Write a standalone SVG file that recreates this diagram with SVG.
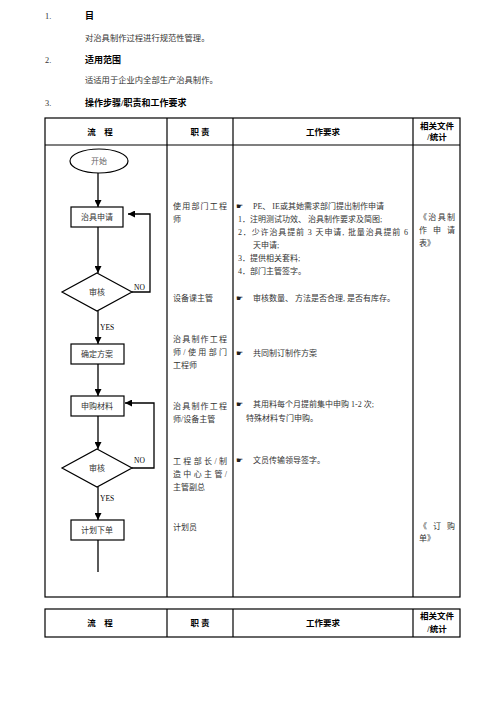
<svg xmlns="http://www.w3.org/2000/svg" width="496" height="702" viewBox="0 0 496 702">
<style>
text{font-family:"Liberation Serif","Noto Sans CJK SC",serif;fill:#333;font-size:8px}
.h{font-weight:bold;fill:#000;font-size:8.5px}
.t{font-size:8.3px}
.th{font-weight:bold;fill:#000;font-size:9px}
.hand{font-family:"DejaVu Sans",sans-serif;fill:#222;font-size:8px}
.c{text-anchor:middle}
.grid{stroke:#000;stroke-width:1.2;fill:none}
.fl{stroke:#000;stroke-width:1.2;fill:#fff}
.con{stroke:#000;stroke-width:1.3;fill:none}
</style>
<defs>
<marker id="ah" viewBox="0 0 10 10" refX="10" refY="5" markerWidth="7" markerHeight="7" markerUnits="userSpaceOnUse" orient="auto"><path d="M0,0L10,5L0,10z" fill="#000"/></marker>
</defs>
<rect width="496" height="702" fill="#fff"/>
<g id="intro">
<text class="t" x="45" y="19">1.</text>
<text class="th" x="85" y="19">目</text>
<text class="t" x="85" y="41">对治具制作过程进行规范性管理。</text>
<text class="t" x="45" y="63">2.</text>
<text class="th" x="85" y="63">适用范围</text>
<text class="t" x="85" y="83">适适用于企业内全部生产治具制作。</text>
<text class="t" x="45" y="106">3.</text>
<text class="th" x="85" y="106">操作步骤/职责和工作要求</text>
</g>
<g id="table1">
<rect class="grid" x="45" y="118" width="415" height="479"/>
<line class="grid" x1="45" y1="145" x2="460" y2="145"/>
<line class="grid" x1="167" y1="118" x2="167" y2="597"/>
<line class="grid" x1="233" y1="118" x2="233" y2="597"/>
<line class="grid" x1="413" y1="118" x2="413" y2="597"/>
<text class="h c" x="100" y="135">流　程</text>
<text class="h c" x="200" y="135">职 责</text>
<text class="h c" x="323" y="135">工作要求</text>
<text class="h c" x="437" y="129">相关文件</text>
<text class="h c" x="437" y="140">/统计</text>
</g>
<g id="table2">
<rect class="grid" x="45" y="609" width="415" height="28"/>
<line class="grid" x1="167" y1="609" x2="167" y2="637"/>
<line class="grid" x1="233" y1="609" x2="233" y2="637"/>
<line class="grid" x1="413" y1="609" x2="413" y2="637"/>
<text class="h c" x="100" y="626">流　程</text>
<text class="h c" x="200" y="626">职 责</text>
<text class="h c" x="323" y="626">工作要求</text>
<text class="h c" x="437" y="619">相关文件</text>
<text class="h c" x="437" y="632">/统计</text>
</g>
<g id="connectors">
<line class="con" x1="98" y1="173" x2="98" y2="207" marker-end="url(#ah)"/>
<line class="con" x1="98" y1="227" x2="98" y2="273" marker-end="url(#ah)"/>
<polyline class="con" points="132,292 150,292 150,214 128,214" marker-end="url(#ah)"/>
<line class="con" x1="98" y1="311" x2="98" y2="344" marker-end="url(#ah)"/>
<line class="con" x1="98" y1="364" x2="98" y2="396" marker-end="url(#ah)"/>
<line class="con" x1="98" y1="416" x2="98" y2="449" marker-end="url(#ah)"/>
<polyline class="con" points="132,468 154,468 154,403 125,403" marker-end="url(#ah)"/>
<line class="con" x1="98" y1="487" x2="98" y2="520" marker-end="url(#ah)"/>
<line class="con" x1="98" y1="540" x2="98" y2="572"/>
<text x="134" y="290" style="font-size:7.5px;fill:#000">NO</text>
<text x="100" y="330" style="font-size:7.5px;fill:#000">YES</text>
<text x="134" y="463" style="font-size:7.5px;fill:#000">NO</text>
<text x="100" y="501" style="font-size:7.5px;fill:#000">YES</text>
</g>
<g id="start">
<ellipse class="fl" cx="99" cy="161" rx="29" ry="12"/>
<text class="c" x="99" y="164" style="fill:#666">开始</text>
</g>
<g id="apply">
<rect class="fl" x="71" y="207" width="52" height="20"/>
<text class="c" x="97" y="220">治具申请</text>
</g>
<g id="review1">
<polygon class="fl" points="97,273 132,292 97,311 62,292"/>
<text class="c" x="97" y="295">审核</text>
</g>
<g id="plan">
<rect class="fl" x="71" y="344" width="53" height="20"/>
<text class="c" x="97" y="357">确定方案</text>
</g>
<g id="purchase">
<rect class="fl" x="71" y="396" width="53" height="20"/>
<text class="c" x="97" y="409">申购材料</text>
</g>
<g id="review2">
<polygon class="fl" points="97,449 132,468 97,487 62,468"/>
<text class="c" x="97" y="471">审核</text>
</g>
<g id="order">
<rect class="fl" x="71" y="520" width="53" height="20"/>
<text class="c" x="97" y="533">计划下单</text>
</g>
<g id="duties">
<text x="173" y="209" textLength="54" lengthAdjust="spacing">使用部门工程</text>
<text x="173" y="222">师</text>
<text x="173" y="301">设备课主管</text>
<text x="173" y="342" textLength="54" lengthAdjust="spacing">治具制作工程</text>
<text x="173" y="355" textLength="54" lengthAdjust="spacing">师/使用部门</text>
<text x="173" y="368">工程师</text>
<text x="173" y="409" textLength="54" lengthAdjust="spacing">治具制作工程</text>
<text x="173" y="422">师/设备主管</text>
<text x="173" y="464" textLength="54" lengthAdjust="spacing">工程部长/制</text>
<text x="173" y="477" textLength="54" lengthAdjust="spacing">造中心主管/</text>
<text x="173" y="490">主管副总</text>
<text x="173" y="530">计划员</text>
</g>
<g id="requirements">
<text class="hand" x="236" y="209">☛</text>
<text x="253" y="209">PE、 IE或其她需求部门提出制作申请</text>
<text x="238" y="222">1．注明测试功效、 治具制作要求及简图;</text>
<text x="238" y="235" textLength="170" lengthAdjust="spacing">2．少许治具提前 3 天申请, 批量治具提前 6</text>
<text x="253" y="248">天申请;</text>
<text x="238" y="261">3．提供相关套料;</text>
<text x="238" y="274">4．部门主管签字。</text>
<text class="hand" x="236" y="301">☛</text>
<text x="253" y="301">审核数量、 方法是否合理, 是否有库存。</text>
<text class="hand" x="236" y="356">☛</text>
<text x="253" y="356">共同制订制作方案</text>
<text class="hand" x="236" y="407">☛</text>
<text x="253" y="407">其用料每个月提前集中申购 1-2 次;</text>
<text x="246" y="421">特殊材料专门申购。</text>
<text class="hand" x="236" y="463">☛</text>
<text x="253" y="463">文员传输领导签字。</text>
</g>
<g id="documents">
<text x="419" y="220" textLength="36" lengthAdjust="spacing">《治具制</text>
<text x="419" y="233" textLength="36" lengthAdjust="spacing">作申请</text>
<text x="419" y="246">表》</text>
<text x="419" y="529" textLength="36" lengthAdjust="spacing">《订购</text>
<text x="419" y="541">单》</text>
</g>
</svg>
